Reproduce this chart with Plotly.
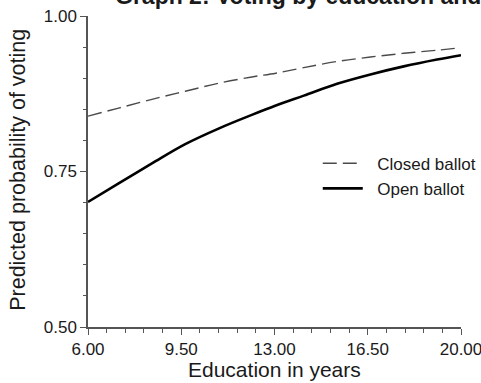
import plotly.graph_objects as go

# Predicted probability of voting by years of education
education = [6.00, 7.15, 8.40, 9.65, 10.90, 12.15, 13.05, 14.10, 15.35, 16.60, 17.85, 19.10, 20.00]
closed_ballot = [0.839, 0.852, 0.866, 0.879, 0.892, 0.902, 0.908, 0.917, 0.927, 0.934, 0.940, 0.945, 0.949]
open_ballot = [0.701, 0.731, 0.763, 0.794, 0.819, 0.841, 0.856, 0.872, 0.891, 0.906, 0.919, 0.930, 0.937]

x_ticks = [6.00, 9.50, 13.00, 16.50, 20.00]
y_ticks = [0.50, 0.75, 1.00]

FONT = "Liberation Sans, Arial, sans-serif"
AXIS = "#555555"
TEXT = "#1a1a1a"
NBSP = "\u00a0"

fig = go.Figure()
fig.add_trace(go.Scatter(
    x=education, y=closed_ballot, mode="lines", name=NBSP * 2 + "Closed ballot",
    line=dict(color="#4a4a4a", width=1.4, dash="14px,6px", shape="spline"),
))
fig.add_trace(go.Scatter(
    x=education, y=open_ballot, mode="lines", name=NBSP * 2 + "Open ballot",
    line=dict(color="#000000", width=2.6, shape="spline"),
))

# Chart heading sits above the plot area, running past the right edge
fig.add_annotation(
    text="<b>Graph 2: Voting by education and ballot type</b>",
    xref="paper", yref="paper", x=0.067, y=1.063,
    xanchor="left", yanchor="middle", showarrow=False,
    font=dict(size=23, color=TEXT, family=FONT),
)
# Axis titles
fig.add_annotation(
    text="Education in years", xref="paper", yref="paper",
    x=0.50, y=-0.138, xanchor="center", yanchor="middle", showarrow=False,
    font=dict(size=21, color=TEXT, family=FONT),
)
fig.add_annotation(
    text="Predicted probability of voting", xref="paper", yref="paper",
    x=-0.188, y=0.505, xanchor="center", yanchor="middle", showarrow=False,
    textangle=-90, font=dict(size=21.5, color=TEXT, family=FONT),
)

fig.update_layout(
    width=481, height=383,
    margin=dict(l=88, r=20, t=16, b=56, autoexpand=False),
    paper_bgcolor="white", plot_bgcolor="white",
    font=dict(family=FONT, color=TEXT),
    showlegend=True,
    legend=dict(
        x=0.616, y=0.583, xanchor="left", yanchor="top",
        font=dict(size=17, color=TEXT),
        bgcolor="rgba(0,0,0,0)", tracegroupgap=0, itemwidth=40,
    ),
    xaxis=dict(
        range=[6, 20], tickvals=x_ticks,
        ticktext=[f"{v:.2f}" for v in x_ticks],
        showgrid=False, zeroline=False, automargin=False,
        showline=True, linecolor=AXIS, linewidth=1.5,
        ticks="outside", ticklen=6, tickcolor=AXIS, tickwidth=1.2,
        tickfont=dict(size=17, color=TEXT), ticklabeloverflow="allow",
        minor=dict(tick0=6, dtick=0.7, ticks="outside", ticklen=4,
                   tickcolor=AXIS, tickwidth=1, showgrid=False),
    ),
    yaxis=dict(
        range=[0.5, 1.0], tickvals=y_ticks,
        ticktext=[f"{v:.2f}" for v in y_ticks],
        showgrid=False, zeroline=False, automargin=False,
        showline=True, linecolor=AXIS, linewidth=1.5,
        ticks="outside", ticklen=6, tickcolor=AXIS, tickwidth=1.2,
        tickfont=dict(size=17, color=TEXT), ticklabeloverflow="allow",
        minor=dict(tick0=0.5, dtick=0.05, ticks="outside", ticklen=3,
                   tickcolor=AXIS, tickwidth=1, showgrid=False),
    ),
)

fig.write_html("out.html")
